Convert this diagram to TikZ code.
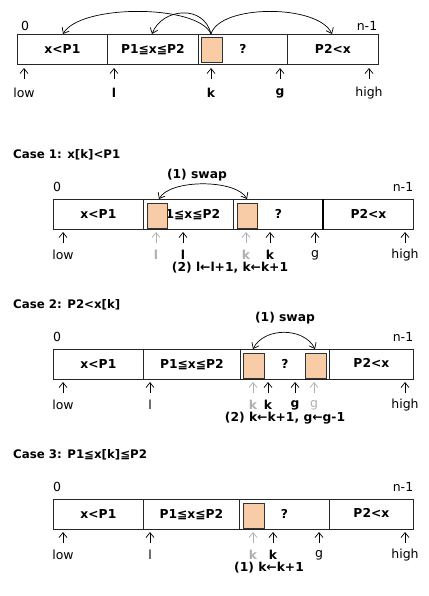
\documentclass[tikz,border=0pt]{standalone}
\usepackage{fontspec}
\setmainfont{DejaVu Sans}
\usetikzlibrary{arrows.meta}
\definecolor{peach}{HTML}{F9CCA8}
\definecolor{ltgray}{HTML}{B0B0B0}
\tikzset{
  seg/.style={draw=black!85, line width=0.8pt, anchor=north west, minimum height=30pt, inner sep=0pt, font=\bfseries\fontsize{12.3}{14}\selectfont},
  sq/.style={draw=black!80, line width=0.8pt, fill=peach, anchor=north west, minimum width=21pt, minimum height=25pt, inner sep=0pt},
  lbl/.style={inner sep=0pt, font=\fontsize{12.5}{14}\selectfont},
  blbl/.style={lbl, font=\bfseries\fontsize{12.3}{14}\selectfont},
  ttl/.style={inner sep=0pt, anchor=west, font=\bfseries\fontsize{11.8}{14}\selectfont},
  ptr/.style={-{Straight Barb[length=5pt,width=8pt]}, line width=0.7pt},
  gptr/.style={ptr, draw=ltgray},
  curvarr/.style={-{Straight Barb[length=5pt,width=8pt]}, line width=0.7pt},
  swaparc/.style={{Straight Barb[length=5pt,width=8pt]}-{Straight Barb[length=5pt,width=8pt]}, line width=0.7pt},
}
\begin{document}
\begin{tikzpicture}[x=1pt,y=-1pt]
\useasboundingbox (0,0) rectangle (428,596);
\fill[white] (0,0) rectangle (428,596);

% ---------------- top diagram ----------------
\node[seg, minimum width=90pt] (a1) at (17,34) {x<P1};
\node[seg, minimum width=91pt] (a2) at (107,34) {P1≦x≦P2};
\node[seg, minimum width=89pt] (a3) at (198,34) {?};
\node[seg, minimum width=91pt] (a4) at (287,34) {P2<x};
\node[sq] (ak) at (200.5,37.5) {};
\node[lbl] at (25,26) {0};
\node[lbl] at (367,26) {n-1};
\coordinate (akt) at (211,34);
\draw[curvarr] (akt) .. controls (198,4) and (80,4) .. (63,34);
\draw[curvarr] (akt) .. controls (204,4) and (162,8) .. (152,34);
\draw[curvarr] (akt) .. controls (220,4) and (318,4) .. (332,34);
\node[lbl] (t0) at (24,93) {low};
\node[blbl] (t1) at (114,93) {l};
\node[blbl] (t2) at (211,93) {k};
\node[blbl] (t3) at (280,93) {g};
\node[lbl] (t4) at (369,93) {high};
\foreach \n/\x in {0/24,1/114,2/211,3/280,4/369}{
  \coordinate (th\n) at (\x,68); \coordinate (tt\n) at (\x,79);
  \draw[ptr] (tt\n) -- (th\n);
}

% ---------------- Case 1 ----------------
\node[ttl] (c1) at (13,155) {Case 1: x[k]<P1};
\node[seg, minimum width=90pt] (b1) at (53,199) {x<P1};
\node[seg, minimum width=90pt] (b2) at (143,199) {P1≦x≦P2};
\node[seg, minimum width=90pt] (b3) at (233,199) {?};
\node[seg, minimum width=90pt] (b4) at (323,199) {P2<x};
\draw[line width=1.6pt] (b4.north west) -- (b4.south west);
\node[sq, minimum width=20pt] (bs1) at (147,202.5) {};
\node[sq, minimum width=20pt] (bs2) at (237,202.5) {};
\node[lbl] at (57,187) {0};
\node[lbl] at (403,187) {n-1};
\node[blbl] (sw1) at (197,175) {(1) swap};
\coordinate (b1l) at (159,199);
\coordinate (b1r) at (247,199);
\draw[swaparc] (b1l) .. controls (170,179) and (236,179) .. (b1r);
\node[lbl] (u0) at (63,255) {low};
\node[blbl, text=ltgray] (u1) at (156,255) {l};
\node[blbl] (u2) at (183,255) {l};
\node[blbl, text=ltgray] (u3) at (246,255) {k};
\node[blbl] (u4) at (270,255) {k};
\node[lbl] (u5) at (315,255) {g};
\node[lbl] (u6) at (405,255) {high};
\foreach \n/\x/\s in {0/63/ptr,1/156/gptr,2/183/ptr,3/246/gptr,4/270/ptr,5/315/ptr,6/405/ptr}{
  \coordinate (uh\n) at (\x,232); \coordinate (ut\n) at (\x,243);
  \draw[\s] (ut\n) -- (uh\n);
}
\node[blbl] (st1) at (230,268) {(2) l←l+1, k←k+1};

% ---------------- Case 2 ----------------
\node[ttl] (c2) at (13,305) {Case 2: P2<x[k]};
\node[seg, minimum width=90pt] (d1) at (53,349) {x<P1};
\node[seg, minimum width=97pt] (d2) at (143,349) {P1≦x≦P2};
\node[seg, minimum width=89pt] (d3) at (240,349) {?};
\node[seg, minimum width=84pt] (d4) at (329,349) {\raisebox{2pt}{P2<x}};
\node[sq] (ds1) at (243,352.5) {};
\node[sq] (ds2) at (305,352.5) {};
\node[lbl] at (57,337) {0};
\node[lbl] at (403,337) {n-1};
\node[blbl] (sw2) at (285,318) {(1) swap};
\coordinate (d2l) at (253,349);
\coordinate (d2r) at (315,349);
\draw[swaparc] (d2l) .. controls (264,327) and (304,327) .. (d2r);
\node[lbl] (v0) at (63,405) {low};
\node[lbl] (v1) at (150,405) {l};
\node[blbl, text=ltgray] (v2) at (253,405) {k};
\node[blbl] (v3) at (268,405) {k};
\node[blbl] (v4) at (295,405) {g};
\node[lbl, text=ltgray] (v5) at (314,405) {g};
\node[lbl] (v6) at (405,405) {high};
\foreach \n/\x/\s in {0/63/ptr,1/150/ptr,2/253/gptr,3/268/ptr,4/295/ptr,5/314/gptr,6/405/ptr}{
  \coordinate (vh\n) at (\x,382); \coordinate (vt\n) at (\x,393);
  \draw[\s] (vt\n) -- (vh\n);
}
\node[blbl] (st2) at (285,418) {(2) k←k+1, g←g-1};

% ---------------- Case 3 ----------------
\node[ttl] (c3) at (13,455) {Case 3: P1≦x[k]≦P2};
\node[seg, minimum width=90pt] (e1) at (53,499) {x<P1};
\node[seg, minimum width=96pt] (e2) at (143,499) {P1≦x≦P2};
\node[seg, minimum width=90pt] (e3) at (239,499) {?};
\node[seg, minimum width=84pt] (e4) at (329,499) {\raisebox{2pt}{P2<x}};
\node[sq] (es1) at (243,502.5) {};
\node[lbl] at (57,487) {0};
\node[lbl] at (403,487) {n-1};
\node[lbl] (w0) at (63,555) {low};
\node[lbl] (w1) at (150,555) {l};
\node[blbl, text=ltgray] (w2) at (253,555) {k};
\node[blbl] (w3) at (273,555) {k};
\node[lbl] (w4) at (319,555) {g};
\node[lbl] (w5) at (405,555) {high};
\foreach \n/\x/\s in {0/63/ptr,1/150/ptr,2/253/gptr,3/273/ptr,4/319/ptr,5/405/ptr}{
  \coordinate (wh\n) at (\x,532); \coordinate (wt\n) at (\x,543);
  \draw[\s] (wt\n) -- (wh\n);
}
\node[blbl] (st3) at (269,568) {(1) k←k+1};
\end{tikzpicture}
\end{document}
